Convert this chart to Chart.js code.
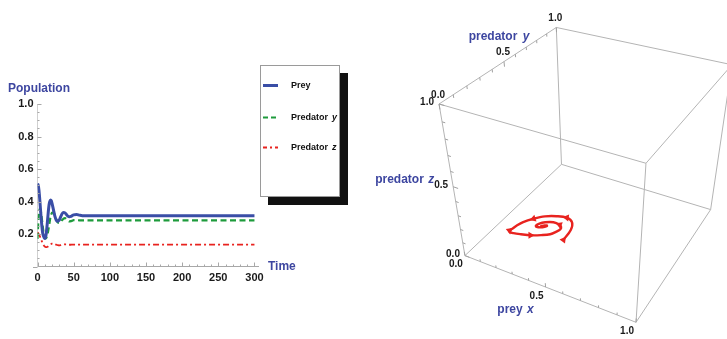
<!DOCTYPE html>
<html>
<head>
<meta charset="utf-8">
<title>Prey and two predators</title>
<script src="https://cdn.jsdelivr.net/npm/chart.js@4.4.1/dist/chart.umd.min.js"></script>
<style>
  html, body { margin: 0; padding: 0; background: #ffffff; }
  #stage { position: relative; width: 727px; height: 339px; overflow: hidden; background: #ffffff; }
  #series { position: absolute; left: 0; top: 0; }
  #phase { position: absolute; left: 350px; top: 0; }
</style>
</head>
<body>
<div id="stage">
  <canvas id="series" width="350" height="339"></canvas>
  <canvas id="phase" width="377" height="339"></canvas>
</div>
<script>
// Solution x(t), y(t), z(t) of the prey / two-predator system
const time = [0, 1, 2, 3, 4, 5, 6, 7, 8, 9, 10, 11, 12, 13, 14, 15, 16, 17, 18, 19, 20,
  22, 24, 26, 28, 30, 32, 34, 36, 38, 40, 42, 44, 46, 48, 50,
  54, 58, 62, 70, 80, 100, 150, 200, 250, 300];
const prey = [0.51, 0.50, 0.47, 0.42, 0.36, 0.30, 0.25, 0.21, 0.19, 0.18, 0.172, 0.178, 0.20, 0.24, 0.29, 0.34, 0.38, 0.40, 0.41, 0.405, 0.39,
  0.35, 0.31, 0.285, 0.278, 0.285, 0.305, 0.325, 0.333, 0.33, 0.32, 0.31, 0.306, 0.308, 0.313, 0.318,
  0.32, 0.316, 0.313, 0.312, 0.312, 0.312, 0.312, 0.312, 0.312, 0.312];
const predatorY = [0.17, 0.26, 0.325, 0.355, 0.35, 0.33, 0.295, 0.255, 0.22, 0.195, 0.18, 0.173, 0.175, 0.185, 0.20, 0.225, 0.25, 0.28, 0.305, 0.32, 0.33,
  0.333, 0.315, 0.29, 0.272, 0.268, 0.272, 0.285, 0.295, 0.298, 0.292, 0.283, 0.278, 0.279, 0.282, 0.285,
  0.285, 0.284, 0.284, 0.284, 0.284, 0.284, 0.284, 0.284, 0.284, 0.284];
const predatorZ = [0.21, 0.205, 0.197, 0.188, 0.178, 0.167, 0.155, 0.144, 0.135, 0.128, 0.123, 0.12, 0.119, 0.12, 0.122, 0.125, 0.129, 0.133, 0.136, 0.139, 0.141,
  0.141, 0.138, 0.134, 0.131, 0.13, 0.131, 0.133, 0.135, 0.136, 0.136, 0.135, 0.134, 0.134, 0.135, 0.135,
  0.135, 0.135, 0.135, 0.135, 0.135, 0.135, 0.135, 0.135, 0.135, 0.135];

const seriesNames = ['Prey', 'Predator y', 'Predator z'];
const phaseAxisNames = ['prey x', 'predator y', 'predator z'];
const timeTicks = [0, 50, 100, 150, 200, 250, 300];
const populationTicks = [0.2, 0.4, 0.6, 0.8, 1.0];
const cubeTicks = [0, 0.5, 1];
const arrowTimes = [0, 3, 6, 10, 14, 20, 27];

const BLUE = '#3a4ea6';
const GREEN = '#1e9b3c';
const RED = '#e8231f';
const TITLE_BLUE = '#3d46a0';
const AXIS_GREY = '#a8a8a8';
const FONT = '"Liberation Sans", Arial, Helvetica, sans-serif';

// Text with an italic single-letter variable at the end ("Predator y")
function richText(ctx, text, x, y, align, size, color, gap) {
  const words = text.split(' ');
  const last = words[words.length - 1];
  const parts = (words.length > 1 && last.length === 1)
    ? [[words.slice(0, -1).join(' ') + ' ', false], [last, true]]
    : [[text, false]];
  ctx.save();
  ctx.fillStyle = color;
  ctx.textBaseline = 'middle';
  ctx.textAlign = 'left';
  const fonts = parts.map(p => (p[1] ? 'italic ' : '') + 'bold ' + size + 'px ' + FONT);
  let total = 0;
  const widths = parts.map((p, i) => {
    ctx.font = fonts[i];
    const w = ctx.measureText(p[0]).width + (i < parts.length - 1 ? (gap || 0) : 0);
    total += w;
    return w;
  });
  let cx = align === 'center' ? x - total / 2 : align === 'right' ? x - total : x;
  parts.forEach((p, i) => {
    ctx.font = fonts[i];
    ctx.fillText(p[0], cx, y);
    cx += widths[i];
  });
  ctx.restore();
}

/* ---------------- time series ---------------- */

const seriesDecor = {
  id: 'seriesDecor',
  afterDraw(chart) {
    const ctx = chart.ctx;
    const xs = chart.scales.x, ys = chart.scales.y;
    const area = chart.chartArea;
    ctx.save();
    ctx.strokeStyle = AXIS_GREY;
    ctx.lineWidth = 1;
    ctx.beginPath();
    // the time axis runs a little past the origin
    ctx.moveTo(area.left - 4.5, Math.round(area.bottom) + 0.5);
    ctx.lineTo(area.left, Math.round(area.bottom) + 0.5);
    // inward ticks on the time axis
    for (let t = 0; t <= 300; t += 10) {
      const px = Math.round(xs.getPixelForValue(t)) + 0.5;
      const len = t % 50 === 0 ? 4 : 2;
      ctx.moveTo(px, area.bottom);
      ctx.lineTo(px, area.bottom - len);
    }
    // inward ticks on the population axis
    for (let k = 1; k <= 20; k++) {
      const v = k * 0.05;
      const py = Math.round(ys.getPixelForValue(v)) + 0.5;
      const len = k % 4 === 0 ? 4 : 2;
      ctx.moveTo(area.left, py);
      ctx.lineTo(area.left + len, py);
    }
    ctx.stroke();
    ctx.restore();

    // axis titles
    richText(ctx, 'Population', 8, 89, 'left', 12, TITLE_BLUE);
    richText(ctx, 'Time', 268, 267, 'left', 12, TITLE_BLUE);

    // framed legend with a drop shadow
    const box = { l: 260, t: 65, r: 340, b: 197 };
    ctx.save();
    ctx.fillStyle = '#111111';
    ctx.fillRect(box.l + 8, box.t + 8, box.r - box.l, box.b - box.t);
    ctx.fillStyle = '#ffffff';
    ctx.fillRect(box.l, box.t, box.r - box.l, box.b - box.t);
    ctx.strokeStyle = '#9a9a9a';
    ctx.lineWidth = 1;
    ctx.strokeRect(box.l + 0.5, box.t + 0.5, box.r - box.l - 1, box.b - box.t - 1);
    const rows = [84.5, 116.5, 147];
    chart.data.datasets.forEach((ds, i) => {
      const y = Math.round(rows[i]) + 0.5;
      ctx.save();
      ctx.strokeStyle = ds.borderColor;
      ctx.lineWidth = i === 0 ? 3 : 2;
      ctx.setLineDash(i === 0 ? [] : (i === 1 ? [5, 3] : [4, 3, 2, 3]));
      ctx.beginPath();
      ctx.moveTo(263, y);
      ctx.lineTo(278, y);
      ctx.stroke();
      ctx.restore();
      richText(ctx, ds.label, 291, y, 'left', 9, '#111111', 1.5);
    });
    ctx.restore();
  }
};

new Chart(document.getElementById('series'), {
  type: 'line',
  data: {
    datasets: [
      {
        label: seriesNames[0],
        data: time.map((t, i) => ({ x: t, y: prey[i] })),
        borderColor: BLUE, borderWidth: 3,
        pointRadius: 0, cubicInterpolationMode: 'monotone', fill: false
      },
      {
        label: seriesNames[1],
        data: time.map((t, i) => ({ x: t, y: predatorY[i] })),
        borderColor: GREEN, borderWidth: 2.2, borderDash: [6, 3.5],
        pointRadius: 0, cubicInterpolationMode: 'monotone', fill: false
      },
      {
        label: seriesNames[2],
        data: time.map((t, i) => ({ x: t, y: predatorZ[i] })),
        borderColor: RED, borderWidth: 1.8, borderDash: [6, 3, 2, 3],
        pointRadius: 0, cubicInterpolationMode: 'monotone', fill: false
      }
    ]
  },
  options: {
    responsive: false,
    animation: false,
    events: [],
    layout: { padding: { left: 0, right: 91.2, top: 104, bottom: 52.5 } },
    plugins: { legend: { display: false }, tooltip: { enabled: false } },
    scales: {
      x: {
        type: 'linear', min: 0, max: 306,
        afterBuildTicks: s => { s.ticks = timeTicks.map(v => ({ value: v })); },
        afterFit: s => { s.height = 20; },
        grid: { display: true, drawOnChartArea: false, drawTicks: false },
        border: { display: true, color: AXIS_GREY, width: 1 },
        ticks: {
          autoSkip: false, maxRotation: 0, padding: 5, color: '#1a1a1a',
          font: { family: FONT, size: 11, weight: 'bold' },
          callback: v => String(v)
        }
      },
      y: {
        type: 'linear', min: 0, max: 1,
        afterBuildTicks: s => { s.ticks = populationTicks.map(v => ({ value: v })); },
        afterFit: s => { s.width = 37.5; },
        grid: { display: true, drawOnChartArea: false, drawTicks: false },
        border: { display: true, color: '#d0d0d0', width: 1 },
        ticks: {
          autoSkip: false, padding: 4, color: '#1a1a1a',
          font: { family: FONT, size: 11, weight: 'bold' },
          callback: v => Number(v).toFixed(1)
        }
      }
    }
  },
  plugins: [seriesDecor]
});

/* ---------------- phase space cube ---------------- */

// perspective camera looking at the unit cube
const VIEW_POINT = [1.3, -2.4, 2.0];
const norm = v => { const l = Math.hypot(v[0], v[1], v[2]); return v.map(c => c / l); };
const dot = (a, b) => a[0] * b[0] + a[1] * b[1] + a[2] * b[2];
const cross = (a, b) => [a[1] * b[2] - a[2] * b[1], a[2] * b[0] - a[0] * b[2], a[0] * b[1] - a[1] * b[0]];
const FWD = norm(VIEW_POINT.map(c => -c));
const RIGHT = norm(cross(FWD, [0, 0, 1]));
const UP = cross(RIGHT, FWD);

function project(p) {
  const d = [p[0] - 0.5 - VIEW_POINT[0], p[1] - 0.5 - VIEW_POINT[1], p[2] - 0.5 - VIEW_POINT[2]];
  const depth = dot(d, FWD);
  return { x: dot(d, RIGHT) / depth, y: dot(d, UP) / depth };
}

// image-plane window shown on the canvas
const PHASE_W = 377, PHASE_H = 339;
const ZOOM_X = 680, ZOOM_Y = 632;
const CENTER_X = 244.4, CENTER_Y = 163.8;

const statePoint = i => [prey[i], predatorY[i], predatorZ[i]];

const corners = [];
for (let i = 0; i < 8; i++) corners.push([i & 1, (i >> 1) & 1, (i >> 2) & 1]);
const edges = [];
for (let a = 0; a < 8; a++) {
  for (let b = a + 1; b < 8; b++) {
    const diff = corners[a].reduce((s, c, k) => s + (c !== corners[b][k] ? 1 : 0), 0);
    if (diff === 1) edges.push([corners[a], corners[b]]);
  }
}

const phaseDatasets = [];
phaseDatasets.push({
  label: 'direction',
  data: arrowTimes.map(t => project(statePoint(time.indexOf(t)))),
  showLine: false,
  pointStyle: 'triangle',
  pointRadius: 4,
  pointBackgroundColor: RED,
  pointBorderColor: RED,
  pointBorderWidth: 0,
  rotation: ctx => {
    if (ctx.type !== 'data') return 0;
    const k = time.indexOf(arrowTimes[ctx.dataIndex]);
    const a = project(statePoint(k)), b = project(statePoint(k + 1));
    const xs = ctx.chart.scales.x, ys = ctx.chart.scales.y;
    const dx = xs.getPixelForValue(b.x) - xs.getPixelForValue(a.x);
    const dy = ys.getPixelForValue(b.y) - ys.getPixelForValue(a.y);
    return Math.atan2(dy, dx) * 180 / Math.PI + 90;
  }
});
phaseDatasets.push({
  label: 'trajectory',
  data: time.map((t, i) => project(statePoint(i))),
  showLine: true,
  borderColor: RED,
  borderWidth: 2.4,
  tension: 0.35,
  pointRadius: 0
});
edges.forEach((e, i) => {
  phaseDatasets.push({
    label: 'edge' + i,
    data: [project(e[0]), project(e[1])],
    showLine: true,
    borderColor: '#b4b4b4',
    borderWidth: 1,
    pointRadius: 0,
    clip: false
  });
});

const cubeDecor = {
  id: 'cubeDecor',
  afterDatasetsDraw(chart) {
    const ctx = chart.ctx;
    const xs = chart.scales.x, ys = chart.scales.y;
    const at = p => { const q = project(p); return [xs.getPixelForValue(q.x), ys.getPixelForValue(q.y)]; };
    // axis: point on the edge as a function of value, tick direction
    const axes = [
      { pos: v => [v, 0, 0], dir: [0, 0, 1] },
      { pos: v => [0, v, 1], dir: [0, 0, -1] },
      { pos: v => [0, 0, v], dir: [1, 0, 0] }
    ];
    ctx.save();
    ctx.strokeStyle = '#a0a0a0';
    ctx.lineWidth = 1;
    ctx.beginPath();
    axes.forEach(ax => {
      for (let k = 0; k <= 10; k++) {
        const v = k / 10;
        const len = k % 5 === 0 ? 0.03 : 0.018;
        const p = ax.pos(v);
        const q = [p[0] + ax.dir[0] * len, p[1] + ax.dir[1] * len, p[2] + ax.dir[2] * len];
        const a = at(p), b = at(q);
        ctx.moveTo(a[0], a[1]);
        ctx.lineTo(b[0], b[1]);
      }
    });
    ctx.stroke();
    ctx.restore();

    ctx.save();
    ctx.fillStyle = '#1a1a1a';
    ctx.font = 'bold 10px ' + FONT;
    ctx.textBaseline = 'middle';
    cubeTicks.forEach(v => {
      const lbl = v.toFixed(1);
      let p = at(axes[0].pos(v));
      ctx.textAlign = 'center';
      ctx.fillText(lbl, p[0] - 9, p[1] + 9);
      p = at(axes[1].pos(v));
      ctx.fillText(lbl, p[0] - 1, p[1] - 9);
      p = at(axes[2].pos(v));
      ctx.textAlign = 'right';
      ctx.fillText(lbl, p[0] - 5, p[1] - 1.5);
    });
    ctx.restore();

    let p = at(axes[0].pos(0.5));
    richText(ctx, phaseAxisNames[0], p[0] - 30, p[1] + 23, 'center', 12, TITLE_BLUE, 1);
    p = at(axes[1].pos(0.5));
    richText(ctx, phaseAxisNames[1], p[0] - 5, p[1] - 25, 'center', 12, TITLE_BLUE, 2);
    p = at(axes[2].pos(0.5));
    richText(ctx, phaseAxisNames[2], p[0] - 19, p[1] - 7, 'right', 12, TITLE_BLUE, 1);
  }
};

new Chart(document.getElementById('phase'), {
  type: 'scatter',
  data: { datasets: phaseDatasets },
  options: {
    responsive: false,
    animation: false,
    events: [],
    layout: { padding: 0 },
    plugins: { legend: { display: false }, tooltip: { enabled: false } },
    scales: {
      x: { type: 'linear', display: false, min: -CENTER_X / ZOOM_X, max: (PHASE_W - CENTER_X) / ZOOM_X },
      y: { type: 'linear', display: false, min: (CENTER_Y - PHASE_H) / ZOOM_Y, max: CENTER_Y / ZOOM_Y }
    }
  },
  plugins: [cubeDecor]
});
</script>
</body>
</html>
